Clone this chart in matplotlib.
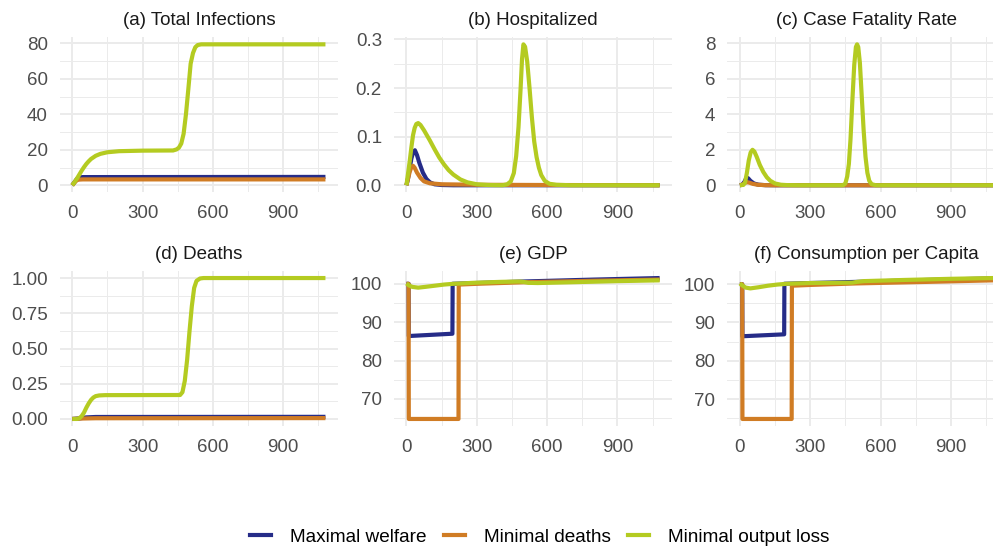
import matplotlib.pyplot as plt
from matplotlib.lines import Line2D

plt.rcParams['font.family'] = ['Liberation Sans', 'DejaVu Sans']

# ---- data (day, value) ----
series_names = ['Maximal welfare', 'Minimal deaths', 'Minimal output loss']
series_colors = ['#262C88', '#D07C24', '#B4CB21']

x_ticks = [0, 300, 600, 900]
x_minor = [150, 450, 750, 1050]

# (a) total infections
inf_welfare = [(0, 0), (10, 1.8), (20, 3.6), (30, 4.4), (45, 4.6), (1080, 4.7)]
inf_deaths = [(0, 0), (10, 1.6), (20, 2.9), (30, 3.2), (45, 3.3), (1080, 3.3)]
inf_output = [(0, 0), (10, 1.8), (20, 3.8), (30, 6.0), (40, 8.2), (50, 10.2), (60, 12.0),
              (70, 13.5), (80, 14.8), (100, 16.6), (120, 17.7), (150, 18.6), (200, 19.2),
              (300, 19.5), (430, 19.6), (445, 20.2), (455, 21.2), (465, 23.5), (475, 29),
              (485, 40), (495, 54), (505, 68.5), (515, 74.5), (525, 77.8), (535, 79),
              (550, 79.4), (1080, 79.4)]

# (b) hospitalized
hosp_welfare = [(0, 0), (7, 0.015), (14, 0.035), (21, 0.055), (28, 0.067), (36, 0.072),
                (45, 0.062), (55, 0.046), (70, 0.026), (85, 0.013), (100, 0.006),
                (120, 0.002), (150, 0.0005), (200, 0), (1080, 0)]
hosp_deaths = [(0, 0), (7, 0.014), (14, 0.028), (21, 0.037), (28, 0.04), (35, 0.036),
               (45, 0.026), (60, 0.015), (75, 0.008), (100, 0.004), (150, 0.002),
               (300, 0.001), (600, 0.0005), (1080, 0)]
hosp_output = [(0, 0), (7, 0.025), (14, 0.05), (21, 0.078), (28, 0.103), (35, 0.118),
               (42, 0.126), (50, 0.128), (60, 0.124), (75, 0.113), (100, 0.092),
               (120, 0.074), (140, 0.057), (160, 0.043), (180, 0.031), (200, 0.022),
               (230, 0.012), (260, 0.006), (300, 0.002), (350, 0.0005), (410, 0),
               (430, 0.002), (445, 0.008), (458, 0.025), (468, 0.06), (478, 0.12),
               (487, 0.2), (493, 0.26), (499, 0.29), (506, 0.285), (515, 0.255),
               (525, 0.2), (535, 0.14), (545, 0.09), (555, 0.058), (565, 0.036),
               (575, 0.021), (590, 0.009), (610, 0.003), (640, 0.001), (700, 0), (1080, 0)]

# (c) case fatality rate
cfr_welfare = [(0, 0), (10, 0.03), (20, 0.2), (28, 0.42), (35, 0.4), (45, 0.25), (60, 0.1),
               (80, 0.03), (110, 0.005), (150, 0), (1080, 0)]
cfr_deaths = [(0, 0), (10, 0.03), (20, 0.12), (28, 0.18), (40, 0.15), (55, 0.08), (75, 0.03),
              (110, 0.005), (150, 0), (1080, 0)]
cfr_output = [(0, 0), (15, 0.02), (22, 0.15), (30, 0.7), (38, 1.4), (46, 1.85), (54, 2.0),
              (62, 1.9), (72, 1.6), (85, 1.15), (100, 0.75), (115, 0.45), (130, 0.25),
              (150, 0.1), (175, 0.03), (200, 0.01), (250, 0), (440, 0), (450, 0.1),
              (458, 0.5), (465, 1.2), (472, 2.6), (480, 4.8), (488, 6.8), (495, 7.8),
              (500, 7.95), (505, 7.8), (512, 6.9), (520, 5.0), (528, 3.1), (536, 1.6),
              (544, 0.7), (552, 0.25), (562, 0.06), (580, 0), (1080, 0)]

# (d) deaths
deaths_welfare = [(0, 0), (30, 0.004), (60, 0.011), (100, 0.014), (1080, 0.015)]
deaths_deaths = [(0, 0), (40, 0.003), (100, 0.005), (1080, 0.006)]
deaths_output = [(0, 0), (20, 0), (30, 0.005), (40, 0.02), (50, 0.045), (60, 0.08),
                 (70, 0.11), (80, 0.135), (90, 0.152), (100, 0.162), (115, 0.167),
                 (140, 0.169), (460, 0.17), (470, 0.19), (480, 0.27), (490, 0.42),
                 (500, 0.62), (510, 0.8), (520, 0.93), (530, 0.98), (545, 0.997),
                 (560, 1.0), (1080, 1.0)]

# (e) GDP
gdp_welfare = [(0, 100), (9, 100), (10, 86.4), (196, 87.0), (197, 100.0), (300, 100.2),
               (500, 100.6), (800, 101.1), (1080, 101.5)]
gdp_deaths = [(0, 100), (9, 100), (10, 64.8), (222, 64.8), (223, 99.8), (300, 100.0),
              (500, 100.4), (800, 100.8), (1080, 101.1)]
gdp_output = [(0, 100.1), (10, 99.6), (25, 99.2), (50, 99.0), (80, 99.2), (120, 99.5),
              (160, 99.8), (200, 100.0), (300, 100.3), (400, 100.5), (480, 100.6),
              (500, 100.5), (520, 100.25), (560, 100.2), (700, 100.4), (900, 100.7),
              (1080, 100.9)]

# (f) consumption per capita
cons_welfare = [(0, 100), (10, 100), (11, 86.4), (189, 86.9), (190, 100.1), (300, 100.3),
                (500, 100.6), (800, 101.1), (1080, 101.5)]
cons_deaths = [(0, 100), (10, 100), (11, 64.8), (221, 64.8), (222, 99.6), (300, 99.8),
               (500, 100.2), (800, 100.6), (1080, 101.0)]
cons_output = [(0, 100.2), (10, 99.7), (25, 99.1), (45, 98.9), (80, 99.2), (120, 99.6),
               (160, 99.9), (200, 100.1), (300, 100.3), (480, 100.4), (500, 100.6),
               (530, 100.8), (700, 101.1), (900, 101.4), (1080, 101.6)]

panels = [
    ('(a) Total Infections', [inf_welfare, inf_deaths, inf_output],
     [0, 20, 40, 60, 80], ['0', '20', '40', '60', '80']),
    ('(b) Hospitalized', [hosp_welfare, hosp_deaths, hosp_output],
     [0, 0.1, 0.2, 0.3], ['0.0', '0.1', '0.2', '0.3']),
    ('(c) Case Fatality Rate', [cfr_welfare, cfr_deaths, cfr_output],
     [0, 2, 4, 6, 8], ['0', '2', '4', '6', '8']),
    ('(d) Deaths', [deaths_welfare, deaths_deaths, deaths_output],
     [0, 0.25, 0.5, 0.75, 1.0], ['0.00', '0.25', '0.50', '0.75', '1.00']),
    ('(e) GDP', [gdp_welfare, gdp_deaths, gdp_output],
     [70, 80, 90, 100], ['70', '80', '90', '100']),
    ('(f) Consumption per Capita', [cons_welfare, cons_deaths, cons_output],
     [70, 80, 90, 100], ['70', '80', '90', '100']),
]

# ---- layout in pixels ----
W, H = 993, 548
fig = plt.figure(figsize=(W / 100, H / 100), dpi=100)

col_left = [59.6, 393.8, 727.2]
row_top = [37.3, 271.0]
panel_w, panel_h = 278.5, 155.0

for i, (title, lines, yt, ylab) in enumerate(panels):
    r, c = divmod(i, 3)
    left = col_left[c]
    top = row_top[r]
    ax = fig.add_axes([left / W, 1 - (top + panel_h) / H, panel_w / W, panel_h / H])

    for data, color in zip(lines, series_colors):
        d = [p[0] for p in data]
        v = [p[1] for p in data]
        ax.plot(d, v, color=color, lw=3.0, solid_capstyle='butt', solid_joinstyle='round')

    ax.set_xlim(-54, 1134)
    ax.margins(y=0.05)
    ax.set_xticks(x_ticks)
    ax.set_xticks(x_minor, minor=True)
    ax.set_yticks(yt)
    ax.set_yticklabels(ylab)
    lo, hi = ax.get_ylim()
    step = yt[1] - yt[0]
    ymin = [t - step / 2 for t in yt] + [yt[-1] + step / 2]
    ax.set_yticks([m for m in ymin if lo < m < hi], minor=True)
    ax.set_ylim(lo, hi)

    ax.grid(which='major', color='#EBEBEB', lw=1.4)
    ax.grid(which='minor', color='#EBEBEB', lw=0.7)
    ax.set_axisbelow(True)
    for s in ax.spines.values():
        s.set_visible(False)
    ax.tick_params(which='both', length=0, labelsize=13.5, labelcolor='#4D4D4D')
    ax.tick_params(axis='y', pad=8.5)
    ax.tick_params(axis='x', pad=9)

    ax.text(0.5, 1 + 12 / panel_h, title, transform=ax.transAxes, ha='center',
            va='baseline', fontsize=13.5, color='#1A1A1A')

handles = [Line2D([], [], color=col, lw=3.0) for col in series_colors]
fig.legend(handles, series_names, loc='center', bbox_to_anchor=(539.5 / W, 1 - 537 / H),
           ncol=3, frameon=False, fontsize=13.7, handlelength=1.1, handletextpad=1.0,
           columnspacing=0.9)

fig.savefig('out.png', dpi=100)
